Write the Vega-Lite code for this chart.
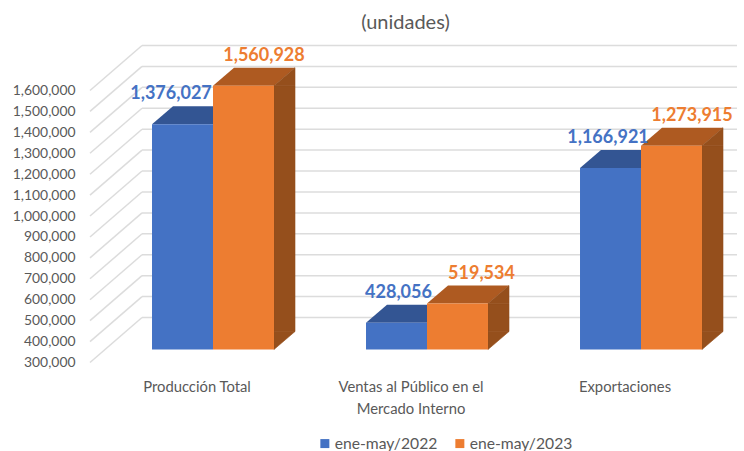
{
"$schema":"https://vega.github.io/schema/vega-lite/v6.json",
"autosize":"none",
"padding":{"left":142,"top":77.5,"right":7,"bottom":101.5},
"width":595,"height":272,
"background":"white",
"config":{"view":{"stroke":null},"font":"Lato"},
"title":{"text":"(unidades)","font":"Lato","fontSize":20,"fontWeight":"normal","color":"#595959","anchor":"middle","dx":-34,"offset":10},
"datasets":{
"bars":[
{"cat":"Producción Total","serie":"ene-may/2022","valor":1376027},
{"cat":"Producción Total","serie":"ene-may/2023","valor":1560928},
{"cat":"Ventas al Público en el Mercado Interno","serie":"ene-may/2022","valor":428056},
{"cat":"Ventas al Público en el Mercado Interno","serie":"ene-may/2023","valor":519534},
{"cat":"Exportaciones","serie":"ene-may/2022","valor":1166921},
{"cat":"Exportaciones","serie":"ene-may/2023","valor":1273915}],
"ticks":[{"t":300000},{"t":400000},{"t":500000},{"t":600000},{"t":700000},{"t":800000},{"t":900000},{"t":1000000},{"t":1100000},{"t":1200000},{"t":1300000},{"t":1400000},{"t":1500000},{"t":1600000}]
},
"layer":[
{"data":{"name":"ticks"},
 "mark":{"type":"rule","stroke":"#DCDCDC","strokeWidth":1.5,"yOffset":-32},
 "encoding":{"y":{"field":"t","type":"quantitative","scale":{"domain":[300000,1600000],"zero":false,"nice":false},
   "axis":{"title":null,"values":[300000,400000,500000,600000,700000,800000,900000,1000000,1100000,1200000,1300000,1400000,1500000,1600000],"labelExpr":"format(datum.value,',')","domain":false,"ticks":false,"grid":false,"labelOffset":13,"labelPadding":67,"labelFontSize":13.9,"labelColor":"#595959","labelFont":"Lato"}}}},
{"data":{"name":"ticks"},
 "mark":{"type":"point","filled":false,"opacity":1,"stroke":"#DCDCDC","strokeWidth":1.5,"size":4,"shape":"M-349.5,13L-297.5,-32"},
 "encoding":{"y":{"field":"t","type":"quantitative","title":null,"axis":{"title":null,"values":[300000,400000,500000,600000,700000,800000,900000,1000000,1100000,1200000,1300000,1400000,1500000,1600000],"labelExpr":"format(datum.value,',')","domain":false,"ticks":false,"grid":false,"labelOffset":13,"labelPadding":67,"labelFontSize":13.9,"labelColor":"#595959","labelFont":"Lato"}}}},
{"data":{"name":"bars"},
 "encoding":{
  "x":{"field":"cat","type":"nominal","sort":null,"scale":{"range":[-36,606],"paddingInner":0.43,"paddingOuter":0.215},
   "axis":{"title":null,"domain":false,"ticks":false,"labelAngle":0,"labelPadding":38,"labelFontSize":14.8,"labelColor":"#595959","labelFont":"Lato","labelLineHeight":22,"labelBaseline":"middle",
    "labelExpr":"datum.label=='Ventas al Público en el Mercado Interno'?['Ventas al Público en el','Mercado Interno']:datum.label",
    "labelOffset":-16}},
  "y":{"field":"valor","type":"quantitative","title":null,"axis":{"title":null,"values":[300000,400000,500000,600000,700000,800000,900000,1000000,1100000,1200000,1300000,1400000,1500000,1600000],"labelExpr":"format(datum.value,',')","domain":false,"ticks":false,"grid":false,"labelOffset":13,"labelPadding":67,"labelFontSize":13.9,"labelColor":"#595959","labelFont":"Lato"}}
 },
 "layer":[
  {"transform":[{"filter":"datum.serie=='ene-may/2023'"}],
   "mark":{"type":"bar","fill":"#954F1C","stroke":"#954F1C","strokeWidth":0.6,"width":21,"xOffset":71.5,"y2Offset":-18},
   "encoding":{"y2":{"datum":300000}}},
  {"encoding":{"xOffset":{"field":"serie","type":"nominal","sort":null}},
   "layer":[
  {"transform":[{"filter":"datum.serie=='ene-may/2022'"}],
   "mark":{"type":"point","filled":true,"opacity":1,"fill":"#335593","size":4,"shape":"M-30.5,0L30.5,0L51.5,-18L-9.5,-18Z"}},
  {"transform":[{"filter":"datum.serie=='ene-may/2023'"}],
   "mark":{"type":"point","filled":true,"opacity":1,"fill":"#AE5A21","size":4,"shape":"M-30.5,0L30.5,0L51.5,-18L-9.5,-18Z"}},
  {"transform":[{"filter":"datum.serie=='ene-may/2023'"}],
   "mark":{"type":"point","filled":true,"opacity":1,"fill":"#954F1C","stroke":"#954F1C","strokeWidth":0.6,"size":4,"shape":"M30.5,0L51.5,-18L51.5,0Z"}},
  {"transform":[{"filter":"datum.serie=='ene-may/2023'"}],
   "mark":{"type":"point","filled":true,"opacity":1,"fill":"#954F1C","stroke":"#954F1C","strokeWidth":0.6,"size":4,"shape":"M30.5,-18L51.5,-18L30.5,0Z"},
   "encoding":{"y":{"datum":300000,"type":"quantitative","axis":{"title":null,"values":[300000,400000,500000,600000,700000,800000,900000,1000000,1100000,1200000,1300000,1400000,1500000,1600000],"labelExpr":"format(datum.value,',')","domain":false,"ticks":false,"grid":false,"labelOffset":13,"labelPadding":67,"labelFontSize":13.9,"labelColor":"#595959","labelFont":"Lato"}}}},
  {"mark":{"type":"bar"},
   "encoding":{"y2":{"datum":300000},
    "color":{"field":"serie","type":"nominal","scale":{"domain":["ene-may/2022","ene-may/2023"],"range":["#4472C4","#ED7D31"]},
     "legend":{"title":null,"orient":"none","legendX":175,"legendY":358,"direction":"horizontal","symbolType":"square","symbolSize":81,"symbolOpacity":1,"labelFontSize":15.7,"labelColor":"#595959","labelFont":"Lato","columnPadding":14,"labelOffset":2}}}},
  {"transform":[{"filter":"datum.serie=='ene-may/2022'"}],
   "mark":{"type":"text","fontSize":18,"fontWeight":700,"fill":"#4472C4","yOffset":-30,"dx":{"expr":"datum.cat=='Producción Total'?-11.5:datum.cat=='Exportaciones'?-2.5:2"}},
   "encoding":{"text":{"field":"valor","type":"quantitative","format":","}}},
  {"transform":[{"filter":"datum.serie=='ene-may/2023'"}],
   "mark":{"type":"text","fontSize":18,"fontWeight":700,"fill":"#ED7D31","yOffset":-30,"dx":{"expr":"datum.cat=='Ventas al Público en el Mercado Interno'?24:20.5"}},
   "encoding":{"text":{"field":"valor","type":"quantitative","format":","}}}
   ]}
 ]}
]
}
